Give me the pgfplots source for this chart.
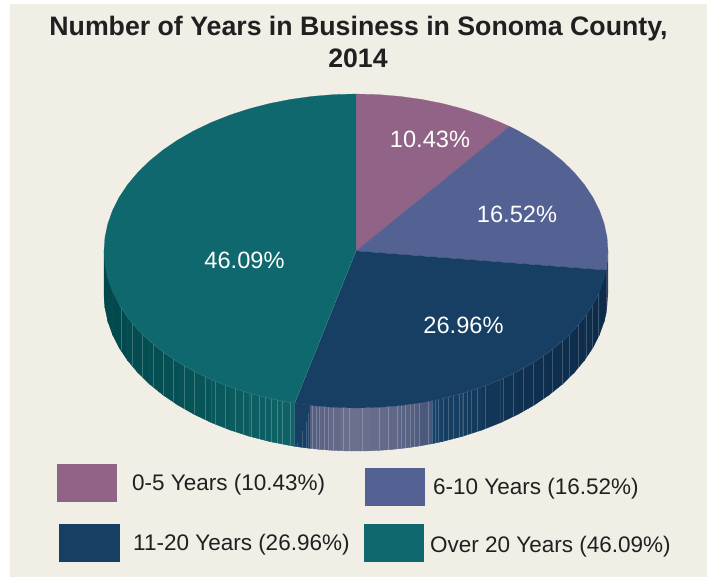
\documentclass[border=0pt]{standalone}
\usepackage{pgfplots}
\pgfplotsset{compat=1.18}
\usepackage{fontspec}
\setmainfont{Liberation Sans}
\definecolor{panel}{HTML}{F1EEE6}
\definecolor{cmauve}{HTML}{916386}
\definecolor{cslate}{HTML}{546293}
\definecolor{cnavy}{HTML}{163F63}
\definecolor{cteal}{HTML}{0E686D}
\definecolor{ink}{HTML}{231F20}
\pgfplotsset{
  colormap={tealwall}{rgb255=(1,72,75) rgb255=(8,84,88) rgb255=(14,100,105)},
  colormap={highwall}{rgb255=(84,92,128) rgb255=(108,113,141) rgb255=(98,105,136) rgb255=(72,86,124)},
  colormap={navywall}{rgb255=(24,66,104) rgb255=(15,48,80) rgb255=(13,44,74)},
}
\newcommand{\fnt}[1]{\fontsize{#1}{#1}\selectfont}
\begin{document}
\begin{tikzpicture}
\begin{axis}[
  scale only axis, width=707pt, height=577pt,
  xmin=0, xmax=707, ymin=0, ymax=577, y dir=reverse,
  axis lines=none, clip=true, unbounded coords=jump,
]
% background
\addplot[fill=white, draw=none] coordinates {(0,0)(707,0)(707,577)(0,577)};
\addplot[fill=panel, draw=none] coordinates {(10,4)(707,4)(707,577)(10,577)};

% side wall: teal
\addplot[surf, shader=flat, mesh/rows=2, point meta=x, point meta rel=per plot, colormap name=tealwall] table[x=x,y=y] {
x y
104 251
104.96 264.68
107.83 278.26
112.59 291.63
119.2 304.7
127.61 317.35
137.76 329.5
149.57 341.05
162.96 351.92
177.81 362.02
194.02 371.27
211.46 379.61
230 386.97
249.5 393.29
269.81 398.53
290.78 402.65
294.7 403.3
104 294
104.96 307.68
107.83 321.26
112.59 334.63
119.2 347.7
127.61 360.35
137.76 372.5
149.57 384.05
162.96 394.92
177.81 405.02
194.02 414.27
211.46 422.61
230 429.97
249.5 436.29
269.81 441.53
290.78 445.65
294.7 446.3
};
% side wall: navy, left of the highlight
\addplot[fill=cnavy, draw=cnavy, line width=0.3pt] coordinates {(294.7,403.3)(310,405.36)(310,448.36)(302,447.4)(294.7,446.3)};
% side wall: highlight
\addplot[surf, shader=flat, mesh/rows=2, point meta=x, point meta rel=per plot, colormap name=highwall] table[x=x,y=y] {
x y
310 405.36
320 406.39
330 407.16
340 407.68
350 407.96
360 407.98
370 407.76
380 407.29
390 406.57
400 405.59
410 404.35
420 402.85
432 400.69
310 448.36
320 449.39
330 450.16
340 450.68
350 450.96
360 450.98
370 450.76
380 450.29
390 449.57
400 448.59
410 447.35
420 445.85
432 443.69
};
% side wall: navy, right of the highlight
\addplot[surf, shader=flat, mesh/rows=2, point meta=x, point meta rel=per plot, colormap name=navywall] table[x=x,y=y] {
x y
432 400.69
442.19 398.53
462.5 393.29
482 386.97
500.54 379.61
517.98 371.27
534.19 362.02
549.04 351.92
562.43 341.05
574.24 329.5
584.39 317.35
592.8 304.7
599.41 291.63
604.17 278.26
606.1 270.2
432 443.69
442.19 441.53
462.5 436.29
482 429.97
500.54 422.61
517.98 414.27
534.19 405.02
549.04 394.92
562.43 384.05
574.24 372.5
584.39 360.35
592.8 347.7
599.41 334.63
604.17 321.26
606.1 313.2
};
% side wall: slate sliver
\addplot[fill=black!35!cslate, draw=none] coordinates {(606.1,270.2)(607.04,264.68)(608,251)(608,294)(607.04,307.68)(606.1,313.2)};

% slats
\addplot[color=white, line width=0.35pt, opacity=0.22] coordinates {
(120.7,307)(120.7,350)(nan,nan)(132.3,323)(132.3,366)(nan,nan)(142.3,334)(142.3,377)(nan,nan)
(153.3,344.1)(153.3,387.1)(nan,nan)(163.3,352.2)(163.3,395.2)(nan,nan)(173.3,359)(173.3,402)(nan,nan)
(184.3,365.7)(184.3,408.7)(nan,nan)(194.3,371.4)(194.3,414.4)(nan,nan)(205.3,376.7)(205.3,419.7)(nan,nan)
(215.3,381.1)(215.3,424.1)(nan,nan)(225.3,385.1)(225.3,428.1)(nan,nan)(235.3,388.7)(235.3,431.7)(nan,nan)
(243.3,391.3)(243.3,434.3)(nan,nan)(251.3,393.8)(251.3,436.8)(nan,nan)(259,395.7)(259,438.7)(nan,nan)
(265.3,397.4)(265.3,440.4)(nan,nan)(271,398.8)(271,441.8)(nan,nan)(277.3,400)(277.3,443)(nan,nan)
(282.3,401)(282.3,444)(nan,nan)(290,402.5)(290,445.5)};
\addplot[color=cnavy!70!white, line width=0.35pt, opacity=0.6] coordinates {
(297,443)(297,446.6)(nan,nan)(302,431)(302,447.4)(nan,nan)(306,422)(306,447.9)(nan,nan)(308,413)(308,448.1)};
\addplot[color=white, line width=0.4pt, opacity=0.22] coordinates {
(312,405.6)(312,448.6)(nan,nan)(316,406)(316,449)(nan,nan)(319,406.3)(319,449.3)(nan,nan)
(324,406.7)(324,449.7)(nan,nan)(328,407)(328,450)(nan,nan)(333,407.3)(333,450.3)(nan,nan)
(343,407.8)(343,450.8)(nan,nan)(349,407.9)(349,450.9)(nan,nan)(362,408)(362,451)(nan,nan)
(379,407.3)(379,450.3)(nan,nan)(388,406.7)(388,449.7)(nan,nan)(397,405.9)(397,448.9)(nan,nan)
(401,405.5)(401,448.5)(nan,nan)(405,405)(405,448)(nan,nan)(410,404.4)(410,447.4)(nan,nan)
(414,403.8)(414,446.8)(nan,nan)(419,403)(419,446)(nan,nan)(428,401.5)(428,444.5)};
\addplot[color=white, line width=0.35pt, opacity=0.2] coordinates {
(432,400.5)(432,443.5)(nan,nan)(435,399.9)(435,442.9)(nan,nan)(438,399.4)(438,442.4)(nan,nan)
(443,398.3)(443,441.3)(nan,nan)(448,397)(448,440)(nan,nan)(453,395.7)(453,438.7)(nan,nan)
(459,394.2)(459,437.2)(nan,nan)(463,393.1)(463,436.1)(nan,nan)(467,391.8)(467,434.8)(nan,nan)
(471,390.5)(471,433.5)(nan,nan)(477,388.6)(477,431.6)(nan,nan)(485,385.8)(485,428.8)(nan,nan)
(503,378.4)(503,421.4)(nan,nan)(513,373.7)(513,416.7)(nan,nan)(523,368.4)(523,411.4)(nan,nan)
(533,362.7)(533,405.7)(nan,nan)(543,356)(543,399)(nan,nan)(552,349.5)(552,392.5)(nan,nan)
(562,341.4)(562,384.4)(nan,nan)(569,334.6)(569,377.6)(nan,nan)(578,325)(578,368)(nan,nan)
(586,314.9)(586,357.9)(nan,nan)(592,305.9)(592,348.9)(nan,nan)(598,294.4)(598,337.4)};

% top wedges
\addplot[fill=cmauve, draw=cmauve, line width=0.2pt] coordinates {(356,251)(356,94)(377.96,94.6)(399.76,96.38)(421.22,99.35)(442.19,103.47)(462.5,108.71)(482,115.03)(500.54,122.39)(509.6,126.5)};
\addplot[fill=cslate, draw=cslate, line width=0.2pt] coordinates {(356,251)(509.6,126.5)(517.98,130.73)(534.19,139.98)(549.04,150.08)(562.43,160.95)(574.24,172.5)(584.39,184.65)(592.8,197.3)(599.41,210.37)(604.17,223.74)(607.04,237.32)(608,251)(607.04,264.68)(606.1,270.2)};
\addplot[fill=cnavy, draw=cnavy, line width=0.2pt] coordinates {(356,251)(606.1,270.2)(604.17,278.26)(599.41,291.63)(592.8,304.7)(584.39,317.35)(574.24,329.5)(562.43,341.05)(549.04,351.92)(534.19,362.02)(517.98,371.27)(500.54,379.61)(482,386.97)(462.5,393.29)(442.19,398.53)(421.22,402.65)(399.76,405.62)(377.96,407.4)(356,408)(334.04,407.4)(312.24,405.62)(294.7,403.3)};
\addplot[fill=cteal, draw=cteal, line width=0.2pt] coordinates {(356,251)(294.7,403.3)(290.78,402.65)(269.81,398.53)(249.5,393.29)(230,386.97)(211.46,379.61)(194.02,371.27)(177.81,362.02)(162.96,351.92)(149.57,341.05)(137.76,329.5)(127.61,317.35)(119.2,304.7)(112.59,291.63)(107.83,278.26)(104.96,264.68)(104,251)(104.96,237.32)(107.83,223.74)(112.59,210.37)(119.2,197.3)(127.61,184.65)(137.76,172.5)(149.57,160.95)(162.96,150.08)(177.81,139.98)(194.02,130.73)(211.46,122.39)(230,115.03)(249.5,108.71)(269.81,103.47)(290.78,99.35)(312.24,96.38)(334.04,94.6)(356,94)};
% rims
\addplot[color=white, opacity=0.15, line width=0.35pt] coordinates {(119.2,304.7)(127.61,317.35)(137.76,329.5)(149.57,341.05)(162.96,351.92)(177.81,362.02)(194.02,371.27)(211.46,379.61)(230,386.97)(249.5,393.29)(269.81,398.53)(290.78,402.65)(294.7,403.3)(356,251)};
\addplot[color=white, opacity=0.15, line width=0.35pt] coordinates {(442.19,398.53)(462.5,393.29)(482,386.97)(500.54,379.61)(517.98,371.27)(534.19,362.02)(549.04,351.92)(562.43,341.05)(574.24,329.5)(584.39,317.35)(592.8,304.7)(599.41,291.63)};

% legend swatches
\addplot[fill=cmauve, draw=none] coordinates {(57,464)(117.3,464)(117.3,502)(57,502)};
\addplot[fill=cslate, draw=none] coordinates {(365,468)(425.2,468)(425.2,506)(365,506)};
\addplot[fill=cnavy, draw=none] coordinates {(59.3,524)(119.6,524)(119.6,562)(59.3,562)};
\addplot[fill=cteal, draw=none] coordinates {(364,524)(424.4,524)(424.4,562)(364,562)};

% title
\node[anchor=base, inner sep=0, text=ink, font=\fnt{26.7}\bfseries] at (axis cs:358.5,35.7) {Number of Years in Business in Sonoma County,};
\node[anchor=base, inner sep=0, text=ink, font=\fnt{26.7}\bfseries] at (axis cs:358,67.7) {2014};

% pie labels
\node[anchor=base, inner sep=0, text=white, font=\fnt{23.6}] at (axis cs:430,147.6) {10.43\%};
\node[anchor=base, inner sep=0, text=white, font=\fnt{23.6}] at (axis cs:517,222.6) {16.52\%};
\node[anchor=base, inner sep=0, text=white, font=\fnt{23.6}] at (axis cs:463.5,333.6) {26.96\%};
\node[anchor=base, inner sep=0, text=white, font=\fnt{23.6}] at (axis cs:244.5,269) {46.09\%};

% legend text
\node[anchor=base west, inner sep=0, text=ink, font=\fnt{22.5}] at (axis cs:132,490.7) {0-5 Years (10.43\%)};
\node[anchor=base west, inner sep=0, text=ink, font=\fnt{22.5}] at (axis cs:433,494) {6-10 Years (16.52\%)};
\node[anchor=base west, inner sep=0, text=ink, font=\fnt{22.5}] at (axis cs:133,550) {11-20 Years (26.96\%)};
\node[anchor=base west, inner sep=0, text=ink, font=\fnt{22.5}] at (axis cs:430,552) {Over 20 Years (46.09\%)};
\end{axis}
\end{tikzpicture}
\end{document}
